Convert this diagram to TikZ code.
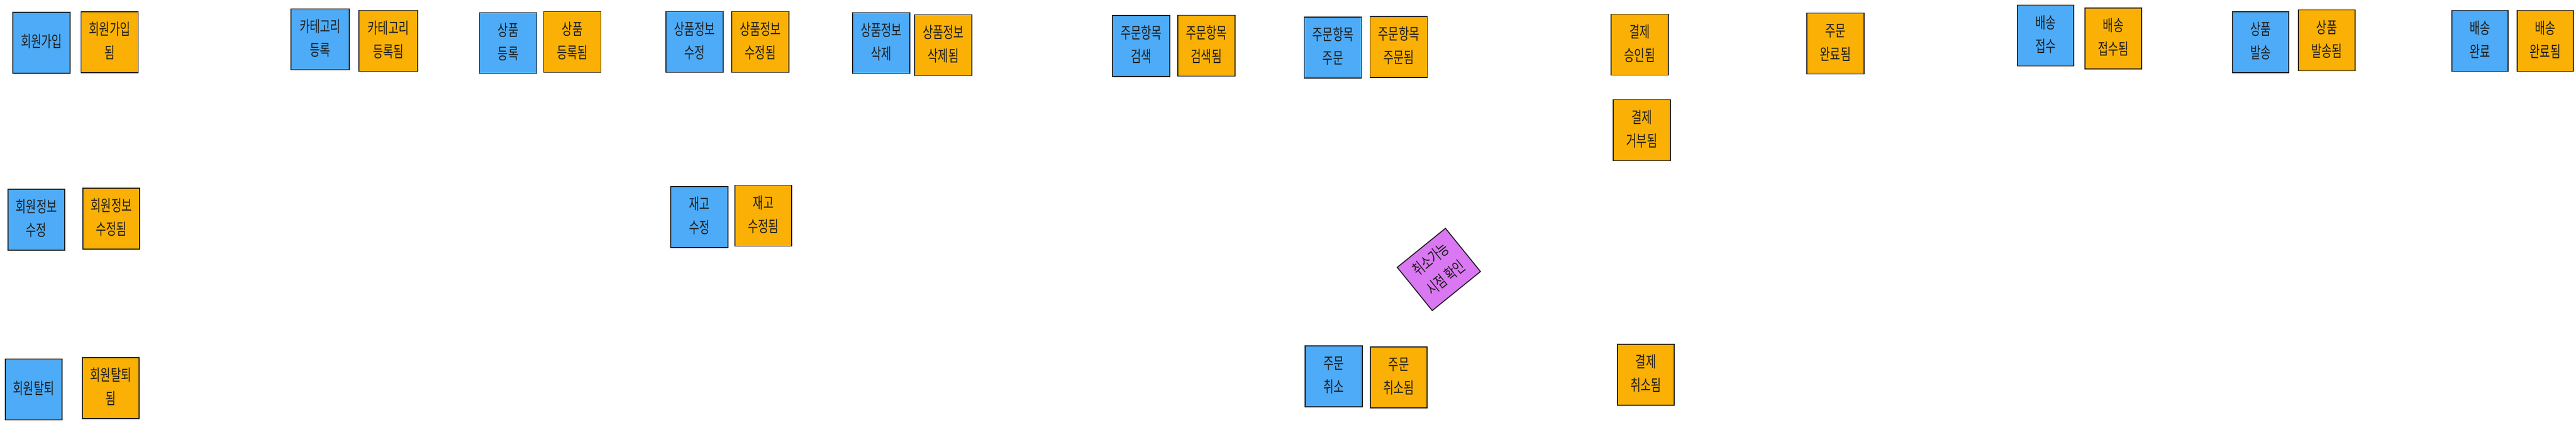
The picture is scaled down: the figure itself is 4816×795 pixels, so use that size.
\documentclass[tikz,border=0pt]{standalone}
\usepackage{fontspec}
\usepackage{graphicx}
\newfontfamily\kr{Noto Sans CJK KR}
\definecolor{cmdblue}{HTML}{4DABF7}
\definecolor{evtorange}{HTML}{FAB005}
\definecolor{polpurple}{HTML}{DA77F2}
\definecolor{ink}{HTML}{1E1E1E}
\newcommand\hw[1]{\scalebox{0.95}[1.35]{\fontsize{22}{32.6}\selectfont\begin{tabular}{@{}c@{}}#1\end{tabular}}}
\tikzset{
  sticky/.style={draw=ink, line width=1.8pt, minimum width=107pt, minimum height=114pt,
    inner sep=0pt, align=center, text=ink, font=\kr},
  cmd/.style={sticky, fill=cmdblue},
  evt/.style={sticky, fill=evtorange},
  pol/.style={sticky, fill=polpurple, minimum width=116pt, minimum height=104pt, rotate=39}
}
\begin{document}
\begin{tikzpicture}[x=1pt,y=-1pt]
\useasboundingbox (0,0) rectangle (4816,795);
% row 1
\node[cmd] (su)   at (77.5,80)   {\hw{회원가입}};
\node[evt] (sud)  at (205,79)    {\hw{회원가입\\됨}};
\node[cmd, minimum width=109pt] (cat)  at (598.5,73.5) {\hw{카테고리\\등록}};
\node[evt, minimum width=110pt] (catd) at (726,76.5)   {\hw{카테고리\\등록됨}};
\node[cmd] (pr)   at (950,80.5)  {\hw{상품\\등록}};
\node[evt] (prd)  at (1070,78.5) {\hw{상품\\등록됨}};
\node[cmd] (pm)   at (1298.5,78.5) {\hw{상품정보\\수정}};
\node[evt] (pmd)  at (1421.5,78.5) {\hw{상품정보\\수정됨}};
\node[cmd] (pdel) at (1647.5,80.5) {\hw{상품정보\\삭제}};
\node[evt] (pdeld) at (1763.5,84.5) {\hw{상품정보\\삭제됨}};
\node[cmd] (os)   at (2133.5,86)   {\hw{주문항목\\검색}};
\node[evt] (osd)  at (2255.5,85.5) {\hw{주문항목\\검색됨}};
\node[cmd] (oo)   at (2492,89)     {\hw{주문항목\\주문}};
\node[evt] (ood)  at (2615,88)     {\hw{주문항목\\주문됨}};
\node[evt] (pay)  at (3065.5,83.5) {\hw{결제\\승인됨}};
\node[evt] (payrej) at (3069.5,243.5) {\hw{결제\\거부됨}};
\node[evt] (ocomp) at (3431.5,81.5) {\hw{주문\\완료됨}};
\node[cmd, minimum width=105pt] (dr)   at (3824.5,66.5) {\hw{배송\\접수}};
\node[evt, minimum width=106pt] (drd)  at (3951,72)     {\hw{배송\\접수됨}};
\node[cmd, minimum width=105pt] (ship) at (4226.5,79)   {\hw{상품\\발송}};
\node[evt, minimum width=106pt] (shipd) at (4350,75.5)  {\hw{상품\\발송됨}};
\node[cmd, minimum width=105pt] (dc)   at (4636.5,76.5) {\hw{배송\\완료}};
\node[evt, minimum width=105pt] (dcd)  at (4758.5,76.5) {\hw{배송\\완료됨}};
% row 2
\node[cmd, minimum width=106pt] (mm)  at (68,411)   {\hw{회원정보\\수정}};
\node[evt, minimum width=106pt] (mmd) at (208,409)  {\hw{회원정보\\수정됨}};
\node[cmd] (inv)  at (1307.5,406) {\hw{재고\\수정}};
\node[evt, minimum width=106pt] (invd) at (1427,403.5) {\hw{재고\\수정됨}};
\node[pol] (chk) at (2690,504) {\hw{취소가능\\시점 확인}};
% row 3
\node[cmd, minimum width=106pt] (mq)  at (63,728.5) {\hw{회원탈퇴}};
\node[evt, minimum width=106pt] (mqd) at (207,726)  {\hw{회원탈퇴\\됨}};
\node[cmd] (oc)  at (2493.5,704) {\hw{주문\\취소}};
\node[evt, minimum width=106pt] (ocd) at (2615,706) {\hw{주문\\취소됨}};
\node[evt, minimum width=106pt] (pc)  at (3077,701) {\hw{결제\\취소됨}};
\end{tikzpicture}
\end{document}
